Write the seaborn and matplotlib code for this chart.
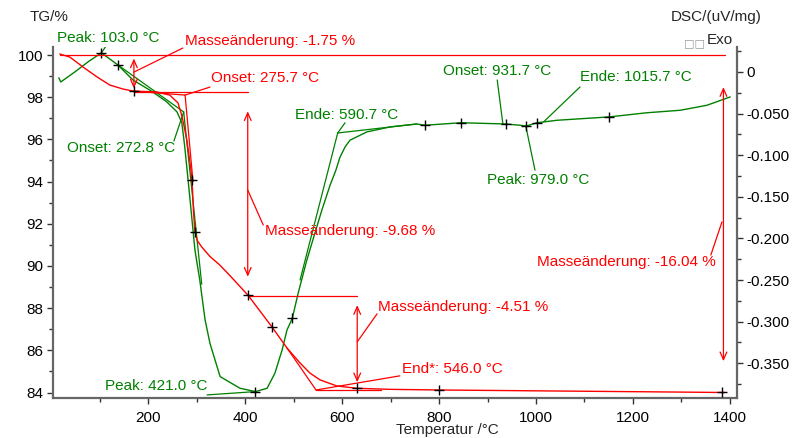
import matplotlib
matplotlib.use("Agg")
import matplotlib.pyplot as plt
import pandas as pd
import seaborn as sns

# --- TG curve: temperature (°C) and mass (%) ---
tg_temp = [17, 38, 65, 94, 120, 147, 168, 217, 244, 261, 268, 273, 279, 284, 288, 291,
           293, 296, 301, 310, 327, 347, 370, 406, 455, 486, 513, 533, 554, 589, 631,
           700, 800, 900, 1000, 1100, 1200, 1300, 1390]
tg_mass = [100.05, 99.9, 99.43, 98.96, 98.58, 98.39, 98.29, 98.25, 98.10, 97.73, 97.2,
           96.7, 96.0, 95.2, 94.5, 93.6, 92.6, 91.6, 91.2, 90.9, 90.45, 90.05, 89.5,
           88.6, 87.11, 86.11, 85.40, 84.93, 84.60, 84.31, 84.2, 84.15, 84.12, 84.1,
           84.08, 84.06, 84.04, 84.02, 84.0]

# --- DSC curve: temperature (°C) and signal (uV/mg) ---
dsc_temp = [15, 19, 48, 75, 103, 137, 168, 209, 238, 259, 269, 275, 286, 296, 306,
            317, 327, 348, 389, 421, 445, 461, 476, 486, 497, 509, 527, 544, 558, 575,
            587, 595, 606, 616, 637, 651, 699, 754, 771, 845, 938, 967, 980, 1002,
            1044, 1151, 1229, 1298, 1353, 1401]
dsc_val = [-0.007, -0.012, 0.0, 0.012, 0.023, 0.0084, -0.0096, -0.024, -0.036, -0.048,
           -0.061, -0.090, -0.154, -0.214, -0.250, -0.298, -0.326, -0.366, -0.380,
           -0.384, -0.380, -0.362, -0.334, -0.310, -0.296, -0.266, -0.226, -0.193,
           -0.166, -0.136, -0.118, -0.103, -0.090, -0.082, -0.076, -0.072, -0.066,
           -0.0625, -0.064, -0.061, -0.0625, -0.064, -0.065, -0.061, -0.058, -0.054,
           -0.049, -0.046, -0.040, -0.030]

# Evaluation markers on both curves
tg_mark_t = [170, 290, 296, 406, 455, 631, 800, 1384]
tg_mark_v = [98.29, 94.08, 91.6, 88.6, 87.11, 84.2, 84.12, 84.02]
dsc_mark_t = [103, 137, 421, 497, 771, 845, 938, 980, 1002, 1151]
dsc_mark_v = [0.023, 0.0084, -0.384, -0.296, -0.064, -0.061, -0.0625, -0.065, -0.061, -0.054]

# Mass change steps (%)
mass_start = 100.0
mass_steps = [-1.75, -9.68, -4.51]
mass_total = -16.04
step_temps = [170, 405, 631]

# Characteristic temperatures (°C)
tg_onset = 275.7
tg_end = 546.0
dsc_peak1 = 103.0
dsc_onset1 = 272.8
dsc_peak2 = 421.0
dsc_end2 = 590.7
dsc_onset3 = 931.7
dsc_peak3 = 979.0
dsc_end3 = 1015.7

x_ticks = [200, 400, 600, 800, 1000, 1200, 1400]
tg_ticks = [84, 86, 88, 90, 92, 94, 96, 98, 100]
dsc_ticks = [0, -0.05, -0.10, -0.15, -0.20, -0.25, -0.30, -0.35]
dsc_tick_labels = ["0", "-0.050", "-0.100", "-0.150", "-0.200", "-0.250", "-0.300", "-0.350"]

RED = "#ff0000"
GREEN = "#008000"
AXC = "#666666"

sns.set_theme(style="white")
plt.rcParams["font.family"] = ["Liberation Sans", "DejaVu Sans"]
plt.rcParams["font.size"] = 11

fig = plt.figure(figsize=(7.98, 4.38), dpi=100)
ax = fig.add_axes([53 / 798, 1 - 398 / 438, (737 - 53) / 798, (398 - 47) / 438])
ax2 = ax.twinx()

tg_df = pd.DataFrame({"T": tg_temp, "TG": tg_mass})
dsc_df = pd.DataFrame({"T": dsc_temp, "DSC": dsc_val})

sns.lineplot(data=tg_df, x="T", y="TG", ax=ax, color=RED, lw=1.0, sort=False,
             estimator=None, legend=False)
sns.lineplot(data=dsc_df, x="T", y="DSC", ax=ax2, color=GREEN, lw=1.0, sort=False,
             estimator=None, legend=False)
sns.scatterplot(x=tg_mark_t, y=tg_mark_v, ax=ax, marker="+", color="black", s=60,
                linewidth=1.0, zorder=5)
sns.scatterplot(x=dsc_mark_t, y=dsc_mark_v, ax=ax2, marker="+", color="black", s=60,
                linewidth=1.0, zorder=5)

ax.set_xlim(3, 1415)
ax.set_ylim(83.74, 100.38)
ax2.set_ylim(-0.3917, 0.030)

# ---- axes styling ----
for a in (ax, ax2):
    for s in a.spines.values():
        s.set_visible(False)
    a.set_xlabel("")
    a.set_ylabel("")
    a.grid(False)
ax.spines["left"].set_visible(True)
ax.spines["bottom"].set_visible(True)
ax2.spines["right"].set_visible(True)
for s in (ax.spines["left"], ax.spines["bottom"], ax2.spines["right"]):
    s.set_color(AXC)
    s.set_linewidth(1.6)

ax.set_xticks(x_ticks)
ax.set_xticks(range(100, 1400, 200), minor=True)
ax.set_yticks(tg_ticks)
ax.set_yticks(range(85, 100, 2), minor=True)
ax2.set_yticks(dsc_ticks)
ax2.set_yticklabels(dsc_tick_labels)
ax2.set_yticks([0.025 - 0.05 * i for i in range(9)], minor=True)
ax.tick_params(axis="both", which="major", direction="out", length=4, width=1,
               color="#333333", labelsize=11, labelcolor="black", pad=3)
ax.tick_params(axis="both", which="minor", direction="out", length=3, width=1,
               color="#333333")
ax.tick_params(axis="x", pad=5, bottom=True, which="both")
ax.tick_params(axis="y", left=True, which="both")
ax2.tick_params(axis="y", which="major", direction="out", length=4, width=1,
                color="#333333", labelsize=11, labelcolor="black", pad=3, right=True)
ax2.tick_params(axis="y", which="minor", direction="out", length=3, width=1,
                color="#333333", right=True)

# ---- axis titles ----
fig.text(30 / 798, 1 - 17 / 438, "TG/%", fontsize=11, va="center", ha="left")
fig.text(762 / 798, 1 - 17 / 438, "DSC/(uV/mg)", fontsize=11, va="center", ha="right")
fig.text(705 / 798, 1 - 43 / 438, "\u25a1\u25a1", fontsize=8, color="#999999",
         va="center", ha="right", family="DejaVu Sans")
fig.text(707 / 798, 1 - 40 / 438, "Exo", fontsize=11, va="center", ha="left")
fig.text(447 / 798, 1 - 430 / 438, "Temperatur /°C", fontsize=11, va="center", ha="center")

# ---- TG evaluation: levels, arrows, tangents ----
lvl = [mass_start]
for st in mass_steps:
    lvl.append(round(lvl[-1] + st, 2))
lvl_total = mass_start + mass_total

line_kw = dict(color=RED, lw=0.9)
ax.plot([17, 1390], [mass_start, mass_start], **line_kw)
ax.plot([step_temps[0], step_temps[1]], [lvl[1], lvl[1]], **line_kw)
ax.plot([step_temps[1], step_temps[2]], [lvl[2], lvl[2]], **line_kw)


def mass_arrow(t, top, bottom):
    span = top - bottom
    ax.annotate("", xy=(t, bottom + 0.095 * span), xytext=(t, top - 0.095 * span),
                arrowprops=dict(arrowstyle="<->, head_length=0.5, head_width=0.22",
                                color=RED, lw=0.9, shrinkA=0, shrinkB=0))


mass_arrow(step_temps[0], lvl[0], lvl[1])
mass_arrow(step_temps[1], lvl[1], lvl[2])
mass_arrow(step_temps[2], lvl[2], lvl[3])
mass_arrow(1387, mass_start, lvl_total)

# onset tangents (TG)
ax.plot([168, tg_onset], [98.29, 98.10], **line_kw)
ax.plot([tg_onset, 292], [98.10, 94.0], **line_kw)
# end tangents (TG)
ax.plot([486, tg_end], [86.11, 84.12], **line_kw)
ax.plot([tg_end, 680], [84.12, 84.12], **line_kw)

# TG labels with leader lines
red_txt = dict(color=RED, fontsize=11, va="center", ha="left")
ax.plot([170, 271], [99.19, 100.33], **line_kw)
ax.text(275, 100.66, f"Masseänderung: {mass_steps[0]:.2f} %", clip_on=False, **red_txt)
ax.plot([tg_onset, 327], [98.10, 98.48], **line_kw)
ax.text(329, 98.91, f"Onset: {tg_onset:.1f} °C", **red_txt)
ax.plot([405, 437], [93.6, 91.94], **line_kw)
ax.text(440, 91.66, f"Masseänderung: {mass_steps[1]:.2f} %", **red_txt)
ax.plot([631, 672], [86.4, 87.73], **line_kw)
ax.text(674, 88.06, f"Masseänderung: {mass_steps[2]:.2f} %", **red_txt)
ax.plot([tg_end, 719], [84.12, 84.79], **line_kw)
ax.text(723, 85.12, f"End*: {tg_end:.1f} °C", **red_txt)
ax.plot([1384, 1361], [92.09, 90.52], **line_kw)
ax.text(1002, 90.19, f"Masseänderung: {mass_total:.2f} %", **red_txt)

# ---- DSC evaluation ----
g_kw = dict(color=GREEN, lw=0.9)
green_txt = dict(color=GREEN, fontsize=11, va="center")
# tangents
ax2.plot([137, dsc_onset1], [0.0084, -0.048], **g_kw)
ax2.plot([dsc_onset1, 310], [-0.048, -0.255], **g_kw)
ax2.plot([513, dsc_end2], [-0.250, -0.0733], **g_kw)
ax2.plot([dsc_end2, 754], [-0.0733, -0.0625], **g_kw)

ax2.plot([dsc_peak1, 114], [0.023, 0.0324], **g_kw)
ax2.text(11, 0.041, f"Peak: {dsc_peak1:.1f} °C", ha="left", **green_txt)
ax2.plot([dsc_onset1, 252.6], [-0.048, -0.083], **g_kw)
ax2.text(255, -0.0913, f"Onset: {dsc_onset1:.1f} °C", ha="right", **green_txt)
ax2.plot([dsc_end2, 606], [-0.0733, -0.061], **g_kw)
ax2.text(503, -0.0517, f"Ende: {dsc_end2:.1f} °C", ha="left", **green_txt)
ax2.plot([dsc_peak2, 321], [-0.384, -0.388], **g_kw)
ax2.text(321, -0.3773, f"Peak: {dsc_peak2:.1f} °C", ha="right", **green_txt)
ax2.plot([dsc_onset3, 920], [-0.0625, -0.0096], **g_kw)
ax2.text(808, 0.0012, f"Onset: {dsc_onset3:.1f} °C", ha="left", **green_txt)
ax2.plot([dsc_end3, 1091], [-0.060, -0.018], **g_kw)
ax2.text(1091, -0.006, f"Ende: {dsc_end3:.1f} °C", ha="left", **green_txt)
ax2.plot([dsc_peak3, 998], [-0.065, -0.118], **g_kw)
ax2.text(899, -0.1298, f"Peak: {dsc_peak3:.1f} °C", ha="left", **green_txt)

ax.set_zorder(ax2.get_zorder() + 1)
ax.patch.set_visible(False)

fig.savefig("out.png", dpi=100)
